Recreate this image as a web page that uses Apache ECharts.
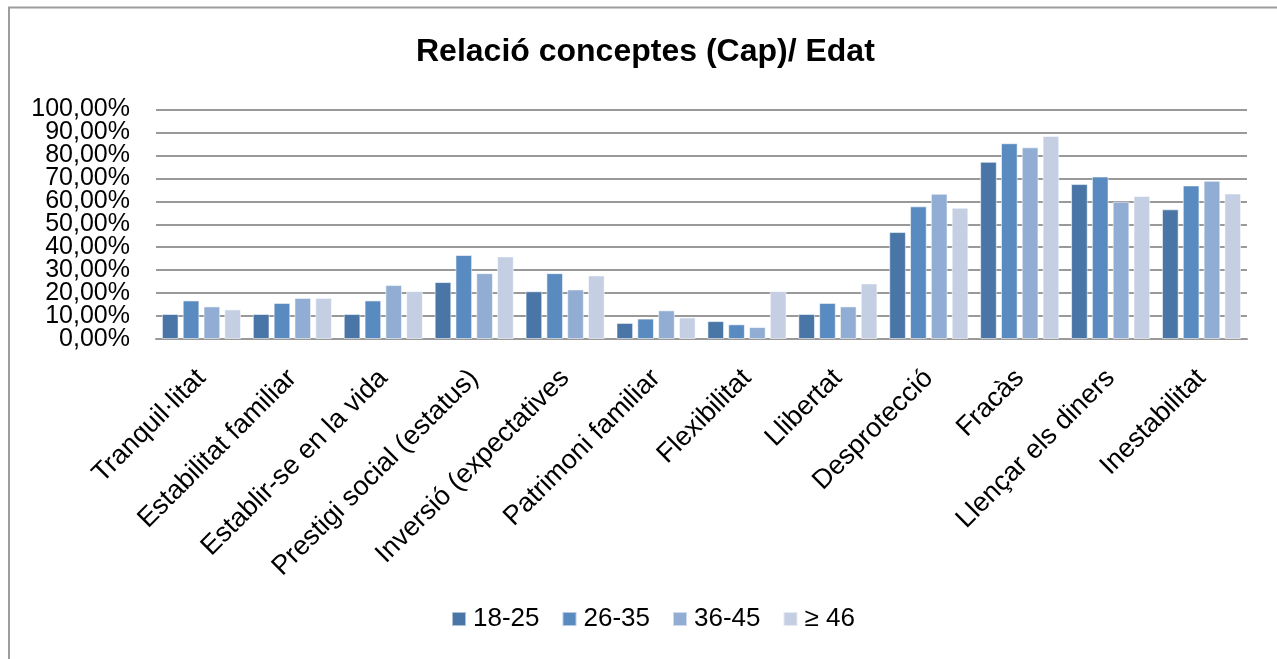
<!DOCTYPE html>
<html>
<head>
<meta charset="utf-8">
<title>Relació conceptes (Cap)/ Edat</title>
<script src="https://cdn.jsdelivr.net/npm/echarts@6/dist/echarts.min.js"></script>
<style>
  html, body { margin: 0; padding: 0; background: #fff; }
  #chart { width: 1277px; height: 659px; }
</style>
</head>
<body>
<div id="chart"></div>
<script>
// Concepts (categories on the x axis)
const categories = [
  'Tranquil·litat',
  'Estabilitat familiar',
  'Establir-se en la vida',
  'Prestigi social (estatus)',
  'Inversió (expectatives',
  'Patrimoni familiar',
  'Flexibilitat',
  'Llibertat',
  'Desprotecció',
  'Fracàs',
  'Llençar els diners',
  'Inestabilitat'
];

// Percentages per age group
const age18_25 = [10.9, 10.9, 10.9, 24.8, 20.8, 7.0, 7.8, 10.9, 46.6, 77.2, 67.5, 56.5];
const age26_35 = [16.8, 15.7, 16.8, 36.6, 28.7, 8.9, 6.4, 15.7, 57.8, 85.3, 70.8, 66.9];
const age36_45 = [14.2, 17.9, 23.5, 28.7, 21.6, 12.5, 5.2, 14.2, 63.3, 83.5, 59.8, 68.9];
const age46up  = [12.9, 17.9, 20.9, 36.0, 27.7, 9.4, 20.9, 24.2, 57.2, 88.5, 62.3, 63.4];

// Y tick labels, from 0 % up to 100 % in steps of 10 %
const yTickLabels = ['0,00%', '10,00%', '20,00%', '30,00%', '40,00%', '50,00%',
                     '60,00%', '70,00%', '80,00%', '90,00%', '100,00%'];

const seriesNames = ['18-25', '26-35', '36-45', '≥ 46'];
const seriesData = [age18_25, age26_35, age36_45, age46up];
const colors = ['#4976A6', '#5A8BC0', '#91ADD3', '#C4CFE4'];

const FONT = '"Liberation Sans", Arial, sans-serif';

const chart = echarts.init(document.getElementById('chart'), null, { renderer: 'canvas' });

chart.setOption({
  backgroundColor: '#ffffff',
  animation: false,
  color: colors,
  title: {
    text: 'Relació conceptes (Cap)/ Edat',
    left: 416,
    top: 36,
    padding: 0,
    textStyle: { fontFamily: FONT, fontSize: 32, fontWeight: 'bold', color: '#000' }
  },
  graphic: [{
    type: 'rect',
    silent: true,
    shape: { x: 9, y: 7.5, width: 2000, height: 2000 },
    style: { fill: 'none', stroke: '#9d9d9d', lineWidth: 2 }
  }],
  legend: {
    data: seriesNames,
    left: 451,
    top: 606,
    padding: 0,
    icon: 'rect',
    itemWidth: 14,
    itemHeight: 14,
    itemGap: 22,
    textStyle: { fontFamily: FONT, fontSize: 26, color: '#000', padding: [0, 0, 0, 2] }
  },
  grid: {
    left: 156,
    right: 30,
    top: 109.5,
    bottom: 320,
    containLabel: false,
    outerBoundsMode: 'none'
  },
  xAxis: {
    type: 'category',
    data: categories,
    axisLine: { show: true, lineStyle: { color: '#999', width: 2 } },
    axisTick: { show: false },
    axisLabel: {
      rotate: 45,
      interval: 0,
      margin: 35,
      hideOverlap: false,
      fontFamily: FONT,
      fontSize: 27,
      color: '#000'
    }
  },
  yAxis: [
    {
      // value scale for the bars, with the horizontal gridlines
      type: 'value',
      min: 0,
      max: 100,
      interval: 10,
      axisLine: { show: false },
      axisTick: { show: false },
      axisLabel: { show: false },
      splitLine: { lineStyle: { color: '#999', width: 2 } }
    },
    {
      // tick labels: one per gridline, all of them kept even where they touch
      type: 'category',
      data: yTickLabels,
      position: 'left',
      boundaryGap: false,
      axisLine: { show: false },
      axisTick: { show: false },
      splitLine: { show: false },
      axisLabel: {
        interval: 0,
        margin: 26,
        fontFamily: FONT,
        fontSize: 25,
        color: '#000'
      }
    }
  ],
  series: seriesNames.map((name, i) => ({
    name: name,
    type: 'bar',
    yAxisIndex: 0,
    data: seriesData[i],
    barGap: '25%',
    barCategoryGap: '13%',
    itemStyle: {
      color: colors[i],
      borderColor: 'rgba(255,255,255,0.55)',
      borderWidth: 1
    }
  }))
});
</script>
</body>
</html>
